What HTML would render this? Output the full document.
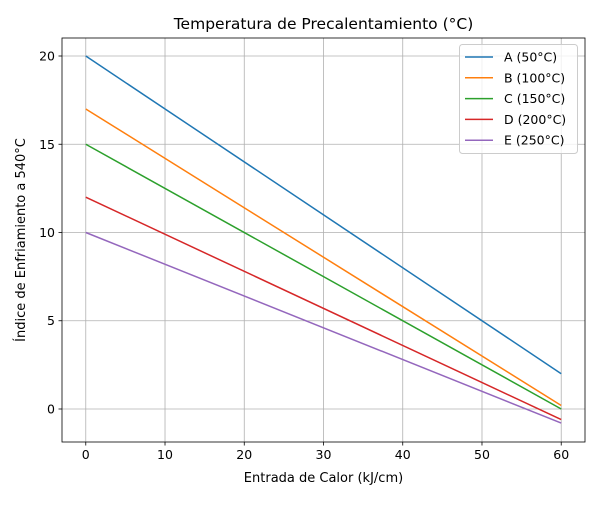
<!DOCTYPE html>
<html><head><meta charset="utf-8"><style>
body{margin:0;background:#fff;font-family:"Liberation Sans","DejaVu Sans",sans-serif;}
svg text{font-family:"DejaVu Sans","Liberation Sans",sans-serif;}
</style></head><body>
<svg id="chart" width="600" height="500"></svg>
<script>
const xValues=[0,60];
const seriesNames=["A (50°C)","B (100°C)","C (150°C)","D (200°C)","E (250°C)"];
const seriesStart=[20,17,15,12,10];
const seriesEnd=[2,0.2,0,-0.6,-0.8];
const colors=["#1f77b4","#ff7f0e","#2ca02c","#d62728","#9467bd"];
const xTicks=[0,10,20,30,40,50,60];
const yTicks=[0,5,10,15,20];
const L=62,R=585,T=38,B=442,xMin=-3,xMax=63,yMin=-1.87,yMax=21.02;
const sx=v=>L+(v-xMin)/(xMax-xMin)*(R-L);
const sy=v=>B-(v-yMin)/(yMax-yMin)*(B-T);
const svg=document.getElementById('chart');
const NS="http://www.w3.org/2000/svg";
function mk(tag,attrs,parent){const e=document.createElementNS(NS,tag);for(const k in attrs)e.setAttribute(k,attrs[k]);(parent||svg).appendChild(e);return e;}
const grid=mk('g',{});


xTicks.forEach(t=>{
 mk('line',{x1:sx(t),x2:sx(t),y1:T,y2:B,stroke:'#b0b0b0','stroke-width':0.8},grid);
 mk('line',{x1:sx(t),x2:sx(t),y1:B,y2:B+3.5,stroke:'#000','stroke-width':0.8});
 const tx=mk('text',{x:sx(t),y:B+17,'text-anchor':'middle','font-size':12.5});
 tx.textContent=t;
 
 
});
yTicks.forEach(t=>{
 mk('line',{x1:L,x2:R,y1:sy(t),y2:sy(t),stroke:'#b0b0b0','stroke-width':0.8},grid);
 mk('line',{x1:L-3.5,x2:L,y1:sy(t),y2:sy(t),stroke:'#000','stroke-width':0.8});
 const tx=mk('text',{x:L-7,y:sy(t)+4.5,'text-anchor':'end','font-size':12.5});
 tx.textContent=t;
 
 
});
seriesNames.forEach((n,i)=>{
 const ln=mk('line',{x1:sx(xValues[0]),y1:sy(seriesStart[i]),x2:sx(xValues[1]),y2:sy(seriesEnd[i]),stroke:colors[i],'stroke-width':1.5});
 
 
});
const frame=mk('rect',{x:L,y:T,width:R-L,height:B-T,fill:'none',stroke:'#000','stroke-width':0.8});


const title=mk('text',{x:(L+R)/2,y:29,'text-anchor':'middle','font-size':15.5});
title.textContent="Temperatura de Precalentamiento (°C)";


const xt=mk('text',{x:(L+R)/2,y:482,'text-anchor':'middle','font-size':13});
xt.textContent="Entrada de Calor (kJ/cm)";


const yt=mk('text',{x:0,y:0,'text-anchor':'middle','font-size':13,transform:'translate(25,'+((T+B)/2)+') rotate(-90)'});
yt.textContent="Índice de Enfriamiento a 540°C";


const lg=mk('g',{});


mk('rect',{x:459.5,y:44.5,width:118,height:109,rx:3,fill:'#fff','fill-opacity':0.8,stroke:'#ccc'},lg);
seriesNames.forEach((n,i)=>{
 const y=57+i*20.8;
 mk('line',{x1:465,x2:493,y1:y,y2:y,stroke:colors[i],'stroke-width':1.5},lg);
 const t=mk('text',{x:504,y:y+4.5,'font-size':12.5},lg);
 t.textContent=n;
 
 
});
</script>
</body></html>
